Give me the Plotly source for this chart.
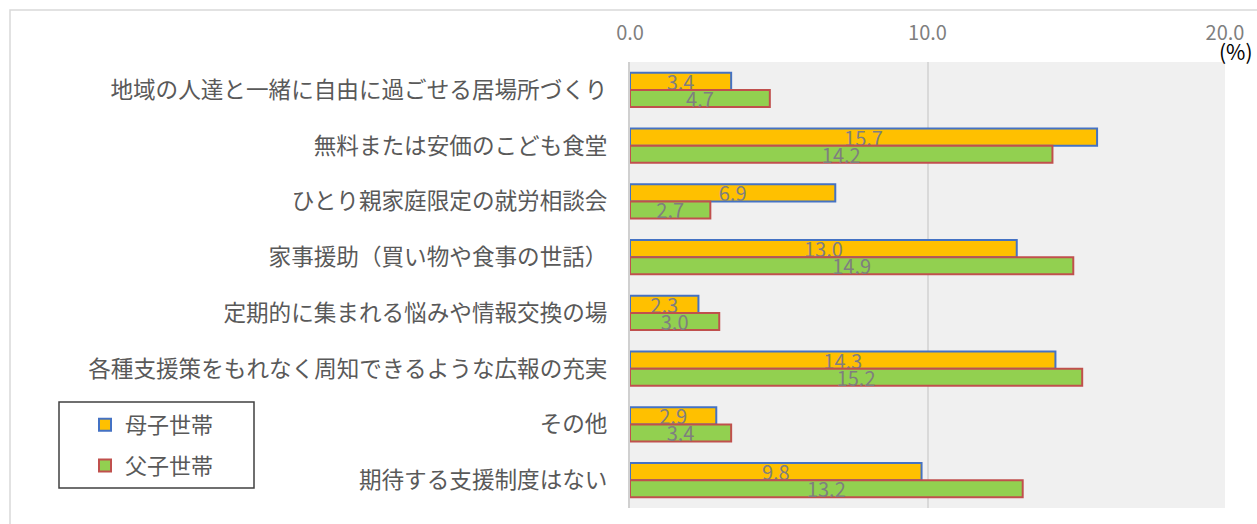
import plotly.graph_objects as go

categories = [
    "地域の人達と一緒に自由に過ごせる居場所づくり",
    "無料または安価のこども食堂",
    "ひとり親家庭限定の就労相談会",
    "家事援助（買い物や食事の世話）",
    "定期的に集まれる悩みや情報交換の場",
    "各種支援策をもれなく周知できるような広報の充実",
    "その他",
    "期待する支援制度はない",
]
boshi = [3.4, 15.7, 6.9, 13.0, 2.3, 14.3, 2.9, 9.8]
fushi = [4.7, 14.2, 2.7, 14.9, 3.0, 15.2, 3.4, 13.2]
series_names = ["母子世帯", "父子世帯"]
tick_vals = [0, 10, 20]

FONT = "Noto Sans CJK JP"

fig = go.Figure()
fig.add_trace(go.Bar(
    y=categories, x=boshi, name=series_names[0], orientation="h",
    marker=dict(color="#ffc000", line=dict(color="#4472c4", width=2)),
    texttemplate="%{x:.1f}", textposition="inside", insidetextanchor="middle",
    constraintext="none", textangle=0,
    textfont=dict(family=FONT, size=20, color="#7f7f7f"),
    legendgroup="a", hoverinfo="x+y",
))
fig.add_trace(go.Bar(
    y=categories, x=fushi, name=series_names[1], orientation="h",
    marker=dict(color="#92d050", line=dict(color="#c0504d", width=2)),
    texttemplate="%{x:.1f}", textposition="inside", insidetextanchor="middle",
    constraintext="none", textangle=0,
    textfont=dict(family=FONT, size=20, color="#7f7f7f"),
    legendgroup="b", hoverinfo="x+y",
))

L, R, T, B = 630, 32, 62, 16
W, H = 1257, 524
pw = W - L - R
ph = H - T - B

def px(xp):
    return (xp - L) / pw

def py(yp):
    return (H - B - yp) / ph

fig.update_layout(
    width=W, height=H,
    margin=dict(l=L, r=R, t=T, b=B, pad=0),
    paper_bgcolor="white",
    plot_bgcolor="#f0f0f0",
    barmode="group",
    bargap=0.39,
    bargroupgap=0,
    font=dict(family=FONT, color="#595959"),
    xaxis=dict(
        side="top", range=[0, 20], tickvals=tick_vals, tickformat=".1f",
        showgrid=True, gridcolor="#d9d9d9", gridwidth=1.5,
        zeroline=False, showline=False,
        tickfont=dict(family=FONT, size=20, color="#7f7f7f"),
        ticklabelstandoff=17, fixedrange=True,
    ),
    yaxis=dict(
        autorange="reversed", showgrid=False, zeroline=False,
        showline=True, linecolor="#d0d0d0", linewidth=2,
        tickfont=dict(family=FONT, size=22.6, color="#595959"),
        ticklabelstandoff=16, fixedrange=True,
    ),
    legend=dict(
        x=px(85), y=py(404), xanchor="left", yanchor="top",
        borderwidth=0, bgcolor="rgba(0,0,0,0)",
        font=dict(family=FONT, size=22, color="#595959"),
        tracegroupgap=9, itemwidth=30,
    ),
    showlegend=True,
    shapes=[
        dict(type="rect", xref="paper", yref="paper",
             x0=px(10), x1=px(1300), y0=py(560), y1=py(10),
             line=dict(color="#d9d9d9", width=1.5), layer="below"),
        dict(type="rect", xref="paper", yref="paper",
             x0=px(59), x1=px(254), y0=py(488), y1=py(402),
             line=dict(color="#404040", width=1.5), fillcolor="white",
             layer="below"),
    ],
    annotations=[
        dict(text="(%)", xref="paper", yref="paper", x=px(1236), y=py(51),
             showarrow=False, xanchor="center", yanchor="middle",
             font=dict(family=FONT, size=21, color="#000000")),
    ],
)

fig.write_html(
    "out.html",
    config={"displayModeBar": False},
    post_script="document.body.style.margin='0';document.body.style.overflow='hidden';",
)
